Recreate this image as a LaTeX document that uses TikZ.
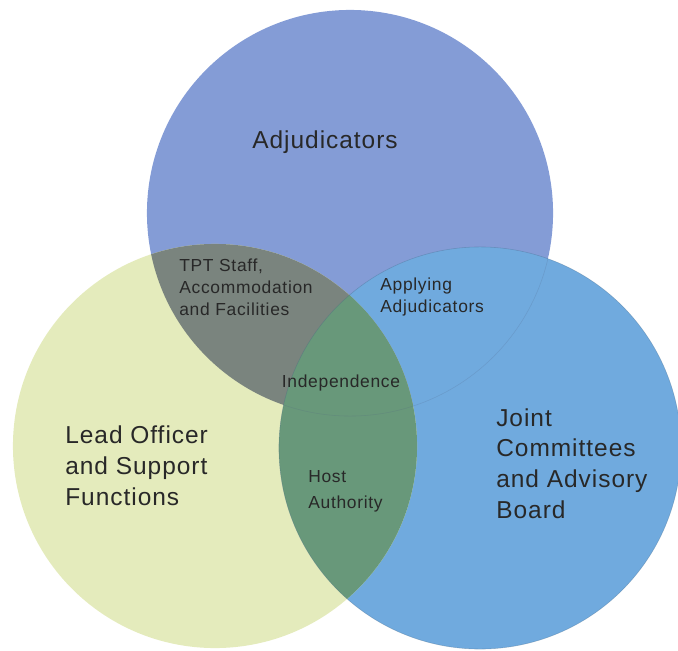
\documentclass[tikz,border=0pt]{standalone}
\usepackage{fontspec}
\setmainfont[LetterSpace=4]{Liberation Sans}
\usepackage{tikz}
\usetikzlibrary{positioning}

\definecolor{topblue}{RGB}{132,156,214}
\definecolor{skyblue}{RGB}{112,170,222}
\definecolor{leafpale}{RGB}{228,235,188}
\definecolor{lensgray}{RGB}{122,132,126}
\definecolor{lensgreen}{RGB}{104,152,122}
\definecolor{textgray}{RGB}{40,40,40}

\begin{document}
\begin{tikzpicture}[
  x=0.025cm, y=-0.025cm,
  every node/.style={inner sep=0pt, text=textgray},
  biglabel/.style={font=\fontsize{17.4}{21.7}\selectfont, align=left},
  smalllabel/.style={font=\fontsize{12.4}{15.4}\selectfont, align=left}
]
  \useasboundingbox (0,0) rectangle (678,651);
  \coordinate (cTop) at (350,213);
  \coordinate (cLeft) at (215,446);
  \coordinate (cRight) at (480,448);

  % the three sets
  \fill[topblue] (cTop) circle[radius=5.075cm];
  \fill[skyblue] (cRight) circle[radius=5.025cm];
  \fill[leafpale] (cLeft) circle[radius=5.05cm];
  \begin{scope}
    \clip (cLeft) circle[radius=5.05cm];
    \fill[lensgray] (cTop) circle[radius=5.075cm];
    \fill[lensgreen] (cRight) circle[radius=5.025cm];
  \end{scope}
  \begin{scope}
    \clip (cRight) circle[radius=5.025cm];
    \draw[topblue!60!black, opacity=0.2] (cTop) circle[radius=5.075cm];
  \end{scope}
  \draw[skyblue!60!black, opacity=0.35] (cRight) circle[radius=5.025cm];

  % labels (multi-line nodes sit on their last line)
  \node[biglabel, anchor=base] (adj) at (325,148) {Adjudicators};
  \node[biglabel, anchor=base west] (lead) at (65,505) {Lead Officer\\and Support\\Functions};
  \node[biglabel, anchor=base west] (joint) at (496,518) {Joint\\Committees\\and Advisory\\Board};

  \node[smalllabel, anchor=base west] (tpt) at (179,315) {TPT Staff,\\Accommodation\\and Facilities};
  \node[smalllabel, anchor=base west] (apply) at (380,312) {Applying\\Adjudicators};
  \node[smalllabel, anchor=base] (indep) at (341,387) {Independence};
  \node[smalllabel, font=\fontsize{12.4}{17.8}\selectfont, anchor=base west] (host) at (308,508) {Host\\Authority};
\end{tikzpicture}
\end{document}
